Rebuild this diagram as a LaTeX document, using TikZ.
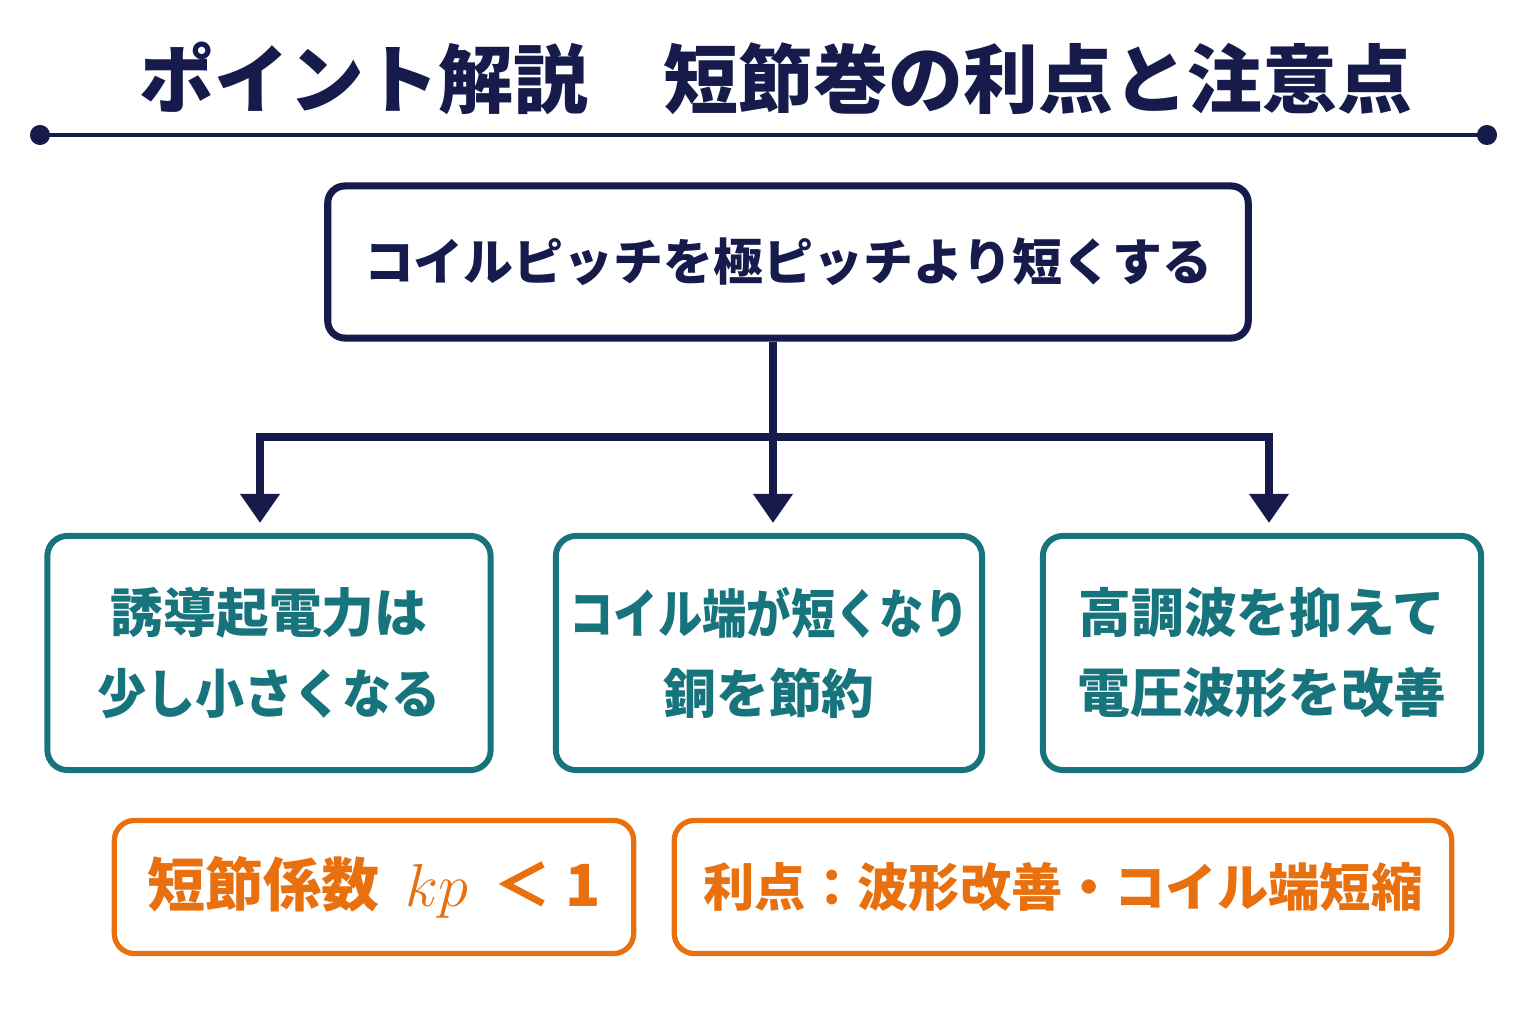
\documentclass[tikz,border=0pt]{standalone}
\usepackage{fontspec}
\setmainfont{Noto Sans CJK JP}
\usetikzlibrary{arrows.meta,positioning}
\definecolor{navyc}{HTML}{161B4C}
\definecolor{tealc}{HTML}{17747D}
\definecolor{orangec}{HTML}{E8700F}
\tikzset{font=\bfseries}
\tikzset{every node/.append style={inner sep=0pt, align=center}}
\tikzset{
  mainbox/.style={draw=navyc, line width=2pt, rounded corners=0.17cm, text=navyc,
    minimum width=9.2cm, minimum height=1.52cm, font=\bfseries\fontsize{14.2}{17}\selectfont},
  effbox/.style={draw=tealc, line width=1.7pt, rounded corners=0.2cm, text=tealc,
    minimum height=2.34cm, font=\bfseries\fontsize{15}{22.8}\selectfont},
  notebox/.style={draw=orangec, line width=1.5pt, rounded corners=0.2cm, text=orangec,
    minimum height=1.33cm},
  conn/.style={draw=navyc, line width=2pt},
  connarrow/.style={conn, -{Triangle[length=0.29cm, width=0.38cm]}, shorten >=0.1cm}
}

\begin{document}
\begin{tikzpicture}[x=0.01cm, y=-0.01cm]
  \useasboundingbox[fill=white] (0,0) rectangle (1536,1024);

  % title
  \node[text=navyc, font=\bfseries\fontsize{21.3}{25}\selectfont] (title) at (776,78)
    {ポイント解説　短節巻の利点と注意点};
  \coordinate (ruleL) at (30,135);
  \coordinate (ruleR) at (1497,135);
  \draw[navyc, line width=1.2pt, {Circle[length=0.2cm]}-{Circle[length=0.2cm]}] (ruleL) -- (ruleR);

  % cause
  \node[mainbox] (pitch) at (788,262) {コイルピッチを極ピッチより短くする};

  % effects
  \node[effbox, minimum width=4.43cm] (emf) at (269,653)
    {誘導起電力は\\\scalebox{0.93}[1]{少し小さくなる}};
  \node[effbox, minimum width=4.26cm] (copper) at (769,653)
    {\scalebox{0.84}[1]{コイル端が短くなり}\\銅を節約};
  \node[effbox, minimum width=4.38cm] (wave) at (1262,653) {高調波を抑えて\\電圧波形を改善};

  % notes
  \node[notebox, minimum width=5.19cm, font=\bfseries\fontsize{16.5}{20}\selectfont] (kp) at (374,887)
    {短節係数\;\,$kp$\;\,＜ 1};
  \node[notebox, minimum width=7.77cm, font=\bfseries\fontsize{14.6}{18}\selectfont] (merit) at (1063,887)
    {利点：波形改善・コイル端短縮};

  % connectors
  \coordinate (jL) at (260,437);
  \coordinate (jM) at (773,437);
  \coordinate (jR) at (1269,437);
  \draw[conn] (pitch.south -| jM) -- (jM);
  \draw[conn, line cap=rect] (jL) -- (jR);
  \draw[connarrow] (jL) -- (jL |- emf.north);
  \draw[connarrow] (jM) -- (jM |- copper.north);
  \draw[connarrow] (jR) -- (jR |- wave.north);
\end{tikzpicture}
\end{document}
